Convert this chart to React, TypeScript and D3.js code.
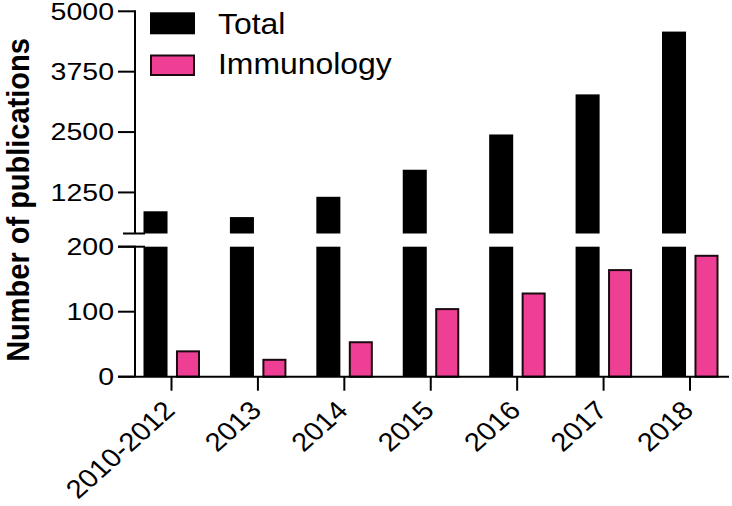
import * as d3 from "d3";

const categories = ["2010-2012", "2013", "2014", "2015", "2016", "2017", "2018"];
const totalValues = [860, 740, 1160, 1720, 2450, 3280, 4580];
const immunologyValues = [39, 26, 53, 104, 128, 164, 186];
const series = ["Total", "Immunology"];
const lowTicks = [0, 100, 200];
const highTicks = [1250, 2500, 3750, 5000];

const W = 732;
const H = 506;
const FONT = "'Liberation Sans', Arial, Helvetica, sans-serif";
const PINK = "#ee3f94";

export default function App() {
  // category centres
  const x = d3.scalePoint<string>().domain(categories).range([171.5, 690]);
  // offset of the two bars inside a group
  const inner = d3.scaleBand<string>().domain(series).range([-28, 28.5]).paddingInner(0.26);

  // broken y axis: two linear segments
  const yLow = d3.scaleLinear().domain([0, 200]).range([376.7, 246.7]);
  const yHigh = d3.scaleLinear().domain([400, 5000]).range([233.5, 11.3]);

  const axisX = 135;
  const bw = inner.bandwidth();

  return (
    <svg width={W} height={H} style={{ position: "absolute", left: 0, top: 0 }} fontFamily={FONT}>
      <rect width={W} height={H} fill="white" />

      {/* Total bars, cut at the break */}
      {categories.map((c, i) => {
        const bx = x(c)! + inner("Total")!;
        const v = totalValues[i];
        return (
          <g key={"t" + c}>
            <rect x={bx} width={bw} y={yLow(Math.min(v, 200))} height={yLow(0) - yLow(Math.min(v, 200))} fill="#000" />
            {v > 400 && (
              <rect x={bx} width={bw} y={yHigh(v)} height={yHigh(400) - yHigh(v)} fill="#000" />
            )}
          </g>
        );
      })}

      {/* Immunology bars */}
      {categories.map((c, i) => {
        const bx = x(c)! + inner("Immunology")!;
        const v = immunologyValues[i];
        return (
          <rect key={"i" + c} x={bx + 1} width={bw - 2} y={yLow(v)} height={yLow(0) - yLow(v)}
            fill={PINK} stroke="#1a0a10" strokeWidth={2} />
        );
      })}

      {/* y axis lower segment */}
      <line x1={axisX} x2={axisX} y1={yLow(200) - 1} y2={yLow(0)} stroke="#000" strokeWidth={2} />
      {lowTicks.map((t) => (
        <g key={"lt" + t}>
          <line x1={118} x2={axisX} y1={yLow(t)} y2={yLow(t)} stroke="#000" strokeWidth={2} />
          <text transform={`translate(114,${yLow(t)}) scale(1.24,1)`} dy="0.36em" textAnchor="end" fontSize={23}>
            {t}
          </text>
        </g>
      ))}
      <line x1={118} x2={145} y1={yLow(200)} y2={yLow(200)} stroke="#000" strokeWidth={2} />

      {/* y axis upper segment */}
      <line x1={axisX} x2={axisX} y1={yHigh(5000) - 1} y2={yHigh(400)} stroke="#000" strokeWidth={2} />
      {highTicks.map((t) => (
        <g key={"ht" + t}>
          <line x1={118} x2={axisX} y1={yHigh(t)} y2={yHigh(t)} stroke="#000" strokeWidth={2} />
          <text transform={`translate(114,${yHigh(t)}) scale(1.24,1)`} dy="0.36em" textAnchor="end" fontSize={23}>
            {t}
          </text>
        </g>
      ))}
      <line x1={123} x2={145} y1={yHigh(400)} y2={yHigh(400)} stroke="#000" strokeWidth={2} />

      {/* x axis */}
      <line x1={118} x2={729} y1={yLow(0)} y2={yLow(0)} stroke="#000" strokeWidth={2} />
      {categories.map((c) => (
        <g key={"xt" + c}>
          <line x1={x(c)!} x2={x(c)!} y1={yLow(0)} y2={yLow(0) + 14} stroke="#000" strokeWidth={2} />
          <text transform={`translate(${x(c)! + 5},412) scale(1.12,1) rotate(-45)`} textAnchor="end" fontSize={26}>
            {c}
          </text>
        </g>
      ))}

      {/* y axis title */}
      <text transform="translate(29,200) scale(1.1,1) rotate(-90)" textAnchor="middle" fontSize={29} fontWeight="bold">
        Number of publications
      </text>

      {/* legend */}
      <rect x={150} y={12.3} width={45} height={22} fill="#000" />
      <text transform="translate(218,33.5) scale(1.1,1)" fontSize={29}>Total</text>
      <rect x={151} y={55.5} width={43} height={19.5} fill={PINK} stroke="#1a0a10" strokeWidth={2} />
      <text transform="translate(218,73.5) scale(1.1,1)" fontSize={29}>Immunology</text>
    </svg>
  );
}
